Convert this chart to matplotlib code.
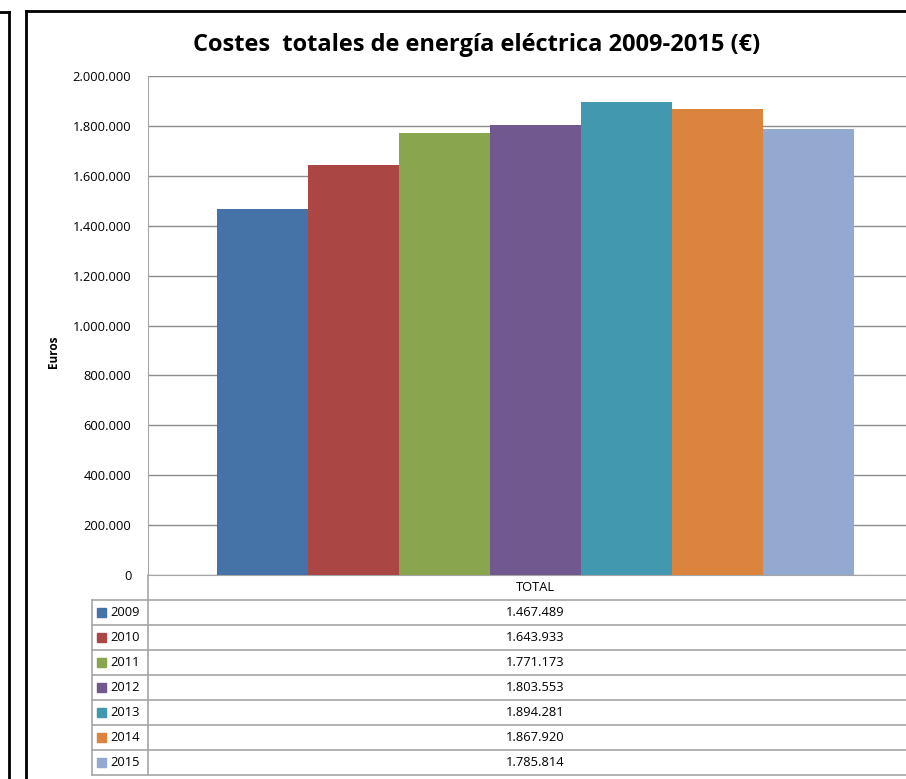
import matplotlib
matplotlib.use("Agg")
import matplotlib.pyplot as plt
from matplotlib.lines import Line2D
from matplotlib.patches import Rectangle

years = ["2009", "2010", "2011", "2012", "2013", "2014", "2015"]
totals = [1467489, 1643933, 1771173, 1803553, 1894281, 1867920, 1785814]
colors = ["#4572A7", "#AA4643", "#89A54E", "#71588F", "#4198AF", "#DB843D", "#93A9CF"]
yticks = list(range(0, 2000001, 200000))

W, H = 906, 779


def fx(px):
    return px / W


def fy(py):
    return 1 - py / H


def fmt(v):
    return "{:,}".format(v).replace(",", ".")


plt.rcParams['font.family'] = ['Open Sans', 'DejaVu Sans']
fig = plt.figure(figsize=(W / 100, H / 100), dpi=100)
small = 9.3

# outer frames
grey = "#A6A6A6"
fig.add_artist(Line2D([fx(9), fx(9)], [fy(12), fy(779)], color="black", lw=2))
fig.add_artist(Line2D([fx(0), fx(9)], [fy(12), fy(12)], color="black", lw=2))
fig.add_artist(Line2D([fx(26), fx(26)], [fy(11), fy(779)], color="black", lw=2))
fig.add_artist(Line2D([fx(26), fx(906)], [fy(11), fy(11)], color="black", lw=2))

# main plot area
left, top, bottom, right = 148, 76, 575, 906
ax = fig.add_axes([fx(left), fy(bottom), fx(right - left), (bottom - top) / H])
bw = 91.0
x0 = -0.5 - (216.5 - left) / bw
x1 = 6.5 + (right - 853.5) / bw
xs = list(range(len(years)))
ax.bar(xs, totals, width=1.0, color=colors, edgecolor="none", zorder=3)
ax.set_xlim(x0, x1)
ax.set_ylim(0, 2000000)
ax.set_yticks(yticks)
ax.set_yticklabels([fmt(v) for v in yticks], fontsize=small)
ax.tick_params(axis="y", length=0, pad=12)
ax.set_xticks([])
ax.grid(axis="y", color="#8C8C8C", lw=1, zorder=0)
for s in ["top", "right"]:
    ax.spines[s].set_visible(False)
ax.spines["left"].set_color(grey)
ax.spines["bottom"].set_color(grey)
fig.text(fx(53), fy(352), "Euros", rotation=90, ha="center", va="center",
         fontsize=8.5, fontweight="bold")

fig.text(fx(477), fy(45), "Costes  totales de energía eléctrica 2009-2015 (€)",
         ha="center", va="center", fontsize=17, fontweight="bold")

# data table below
tab_left = 92
row_h = 25
cx = (216.5 + 853.5) / 2
fig.add_artist(Line2D([fx(left), fx(left)], [fy(bottom), fy(bottom + row_h * 8)], color=grey, lw=1.2))
fig.add_artist(Line2D([fx(tab_left), fx(tab_left)], [fy(bottom + row_h), fy(bottom + row_h * 8)], color=grey, lw=1.2))
fig.text(fx(cx), fy(bottom + row_h / 2), "TOTAL", ha="center", va="center", fontsize=small)
for i, (yr, v, c) in enumerate(zip(years, totals, colors)):
    ytop = bottom + row_h * (i + 1)
    fig.add_artist(Line2D([fx(tab_left), fx(W)], [fy(ytop), fy(ytop)], color=grey, lw=1.2))
    ymid = ytop + row_h / 2
    fig.add_artist(Rectangle((fx(97), fy(ymid + 4.5)), 9 / W, 9 / H, color=c))
    fig.text(fx(110), fy(ymid), yr, ha="left", va="center", fontsize=small)
    fig.text(fx(cx), fy(ymid), fmt(v), ha="center", va="center", fontsize=small)
yend = bottom + row_h * 8
fig.add_artist(Line2D([fx(tab_left), fx(W)], [fy(yend), fy(yend)], color=grey, lw=1.2))

fig.savefig("out.png", dpi=100)
